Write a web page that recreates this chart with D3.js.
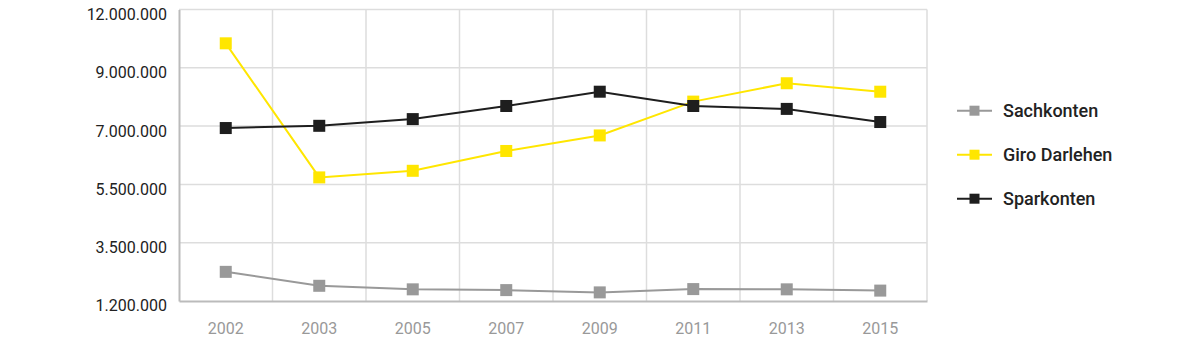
<!DOCTYPE html>
<html><head><meta charset="utf-8">
<script src="https://cdn.jsdelivr.net/npm/d3@7"></script>
<style>
html,body{margin:0;padding:0;background:#fff;}
svg{display:block;font-family:Roboto, "Noto Sans", sans-serif;}
</style></head>
<body>
<svg id="chart" width="1200" height="359"></svg>
<script>
const years = ["2002","2003","2005","2007","2009","2011","2013","2015"];
const yTicks = [1200000, 3500000, 5500000, 7000000, 9000000, 12000000];
const sachkonten = [2350000, 1800000, 1660000, 1630000, 1540000, 1670000, 1660000, 1610000];
const giroDarlehen = [10260000, 5680000, 5850000, 6360000, 6760000, 7840000, 8470000, 8180000];
const sparkonten = [6950000, 7010000, 7240000, 7690000, 8180000, 7690000, 7590000, 7140000];
const seriesNames = ["Sachkonten", "Giro Darlehen", "Sparkonten"];
const seriesColors = ["#999999", "#ffe600", "#1e1e1e"];
const seriesValues = [sachkonten, giroDarlehen, sparkonten];

(function () {
const svg = d3.select("#chart");
const mLeft = 179, mRight = 927, mTop = 9.5, mBottom = 301;

const x = d3.scaleBand().domain(years).range([mLeft, mRight]).padding(0);
const step = (mBottom - mTop) / (yTicks.length - 1);
const y = d3.scaleLinear().domain(yTicks).range(yTicks.map((d, i) => mBottom - i * step));

const loc = d3.formatLocale({decimal: ",", thousands: ".", grouping: [3], currency: ["", "€"]});
const fmt = loc.format(",d");

// gridlines
const grid = svg.append("g");
grid.selectAll("line.h").data(yTicks.slice(1)).join("line")
  .attr("x1", mLeft).attr("x2", mRight)
  .attr("y1", d => y(d)).attr("y2", d => y(d))
  .attr("stroke", "#dddddd").attr("stroke-width", 1.5);
const vEdges = years.slice(1).map(d => x(d)).concat([mRight]);
grid.selectAll("line.v").data(vEdges).join("line")
  .attr("x1", d => d).attr("x2", d => d)
  .attr("y1", mTop).attr("y2", mBottom)
  .attr("stroke", "#dddddd").attr("stroke-width", 1.5);

// y axis
const yAxis = svg.append("g").attr("transform", `translate(${mLeft},0)`)
  .call(d3.axisLeft(y).tickValues(yTicks).tickFormat(fmt).tickSize(0).tickPadding(12));
yAxis.select(".domain").attr("stroke", "#bbbbbb").attr("stroke-width", 2);
yAxis.selectAll("text").attr("font-size", 16).attr("fill", "#222").attr("font-family", "Roboto")
  .attr("dy", "0.62em");

// x axis
const xAxis = svg.append("g").attr("transform", `translate(0,${mBottom})`)
  .call(d3.axisBottom(x).tickSize(0).tickPadding(22));
xAxis.select(".domain").attr("stroke", "#bbbbbb").attr("stroke-width", 2);
xAxis.selectAll("text").attr("font-size", 16).attr("fill", "#999").attr("font-family", "Roboto");

// series
const line = d3.line().x((d, i) => x(years[i]) + x.bandwidth() / 2).y(d => y(d));
seriesValues.forEach((vals, si) => {
  const g = svg.append("g");
  g.append("path").datum(vals).attr("d", line)
    .attr("fill", "none").attr("stroke", seriesColors[si]).attr("stroke-width", 2);
  g.selectAll("rect").data(vals).join("rect")
    .attr("x", (d, i) => x(years[i]) + x.bandwidth() / 2 - 6)
    .attr("y", d => y(d) - 6)
    .attr("width", 12).attr("height", 12)
    .attr("fill", seriesColors[si]);
});

// legend
const leg = svg.append("g");
seriesNames.forEach((name, i) => {
  const cy = 110.7 + i * 44;
  leg.append("line").attr("x1", 957).attr("x2", 992).attr("y1", cy).attr("y2", cy)
    .attr("stroke", seriesColors[i]).attr("stroke-width", 2);
  leg.append("rect").attr("x", 969.5).attr("y", cy - 5).attr("width", 10).attr("height", 10)
    .attr("fill", seriesColors[i]);
  leg.append("text").attr("x", 1003).attr("y", cy).attr("dy", "0.35em")
    .attr("font-size", 18).attr("font-weight", 500).attr("fill", "#222")
    .attr("font-family", "Roboto").text(name);
});
})();
</script>
</body></html>
